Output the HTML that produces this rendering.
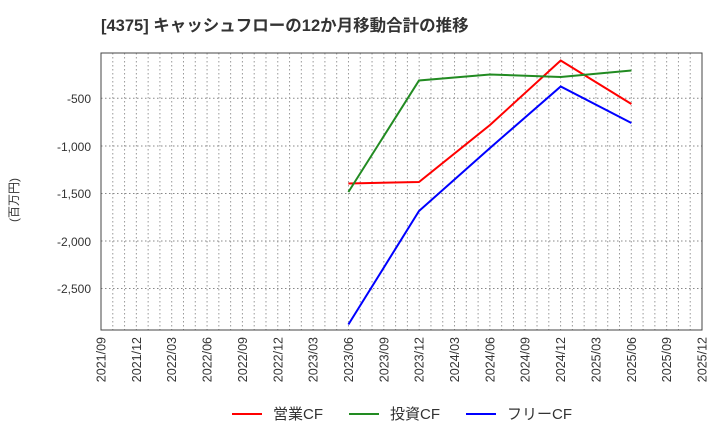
<!DOCTYPE html>
<html><head><meta charset="utf-8"><style>body{margin:0;background:#fff}svg{display:block}</style></head><body>
<svg width="720" height="440" xmlns="http://www.w3.org/2000/svg" font-family="Liberation Sans, Noto Sans CJK JP, sans-serif">
<text x="101" y="31" font-size="16.5" font-weight="bold" fill="#333">[4375]  キャッシュフローの12か月移動合計の推移</text>
<g id="grid" stroke="#888" stroke-width="1" stroke-dasharray="1.5,2.5">
<line x1="101" x2="702" y1="98.3" y2="98.3"/><line x1="101" x2="702" y1="146" y2="146"/><line x1="101" x2="702" y1="193.5" y2="193.5"/><line x1="101" x2="702" y1="241" y2="241"/><line x1="101" x2="702" y1="288.5" y2="288.5"/>
</g>
<g stroke="#999" stroke-width="1" stroke-dasharray="1.5,2.5" id="vg"></g>
<rect x="101" y="53" width="601" height="277" fill="none" stroke="#444" stroke-width="1"/>
<g font-size="12" fill="#333" text-anchor="end">
<text x="91" y="103">-500</text><text x="91" y="151">-1,000</text><text x="91" y="198">-1,500</text><text x="91" y="246">-2,000</text><text x="91" y="293">-2,500</text>
</g>
<text transform="translate(18,200) rotate(-90)" font-size="12" fill="#333" text-anchor="middle">(百万円)</text>
<g id="xl" font-size="12.5" fill="#333"></g>
<polyline fill="none" stroke="#ff0000" stroke-width="2" points="348.4,183.5 419,182 490,125 560.7,60.5 631.4,104"/>
<polyline fill="none" stroke="#228b22" stroke-width="2" points="348.4,192 419,80.5 490,74.5 560.7,77 631.4,70.5"/>
<polyline fill="none" stroke="#0000ff" stroke-width="2" points="348.4,324.5 419,211 490,148 560.7,86.5 631.4,123"/>
<g font-size="15" fill="#333">
<line x1="232" x2="262" y1="414" y2="414" stroke="#ff0000" stroke-width="2"/><text x="273" y="419">営業CF</text>
<line x1="349" x2="379" y1="414" y2="414" stroke="#228b22" stroke-width="2"/><text x="390" y="419">投資CF</text>
<line x1="466" x2="496" y1="414" y2="414" stroke="#0000ff" stroke-width="2"/><text x="507" y="419">フリーCF</text>
</g>
<script>
var vg=document.getElementById('vg'),xl=document.getElementById('xl'),ns='http://www.w3.org/2000/svg';
for(var m=1;m<51;m++){var x=101+m*601/51;var l=document.createElementNS(ns,'line');l.setAttribute('x1',x);l.setAttribute('x2',x);l.setAttribute('y1',53);l.setAttribute('y2',330);vg.appendChild(l);}
for(var q=0;q<=17;q++){var x=101+q*3*601/51;var mo=9+q*3;var y=2021+Math.floor((mo-1)/12);mo=((mo-1)%12)+1;
var t=document.createElementNS(ns,'text');t.setAttribute('transform','translate('+(x+4.5)+',337) rotate(-90)');t.setAttribute('text-anchor','end');t.textContent=y+'/'+(mo<10?'0':'')+mo;xl.appendChild(t);}
</script>
</svg>
</body></html>
